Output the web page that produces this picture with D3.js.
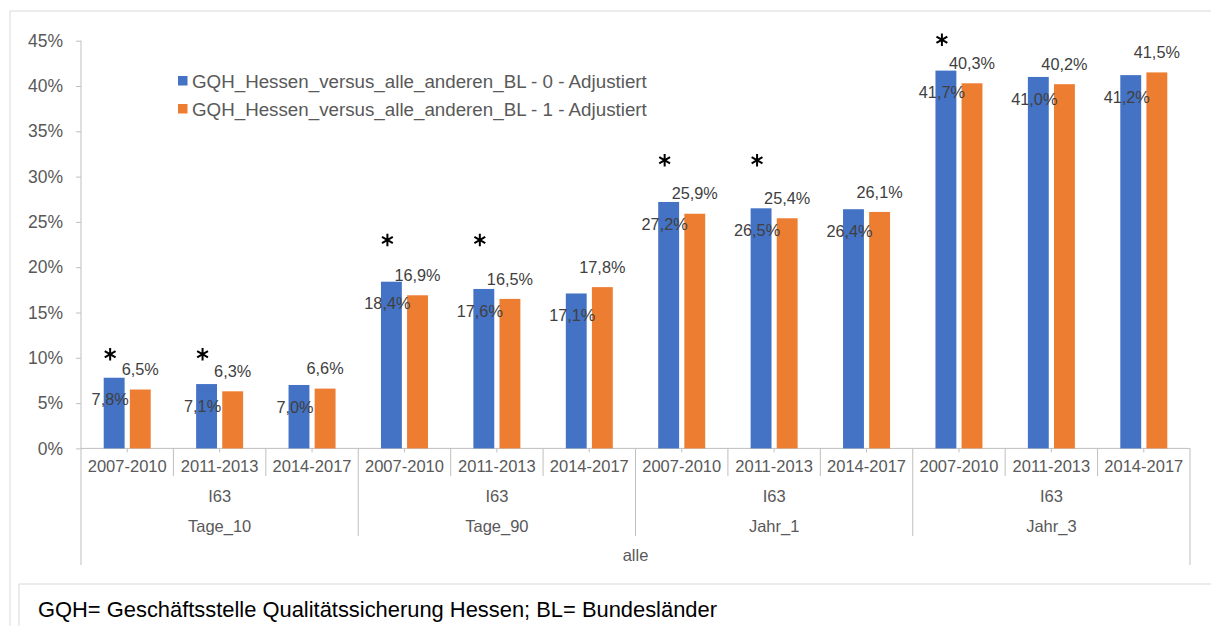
<!DOCTYPE html>
<html>
<head>
<meta charset="utf-8">
<title>GQH Hessen versus alle anderen BL</title>
<script src="https://d3js.org/d3.v7.min.js"></script>
<style>
	body { margin: 0; background: #fff; }
	svg { display: block; font-family: Arial, "Liberation Sans", sans-serif; }
</style>
</head>
<body>
<svg id="chart" width="1211" height="626"></svg>
<script>
// data
var periods = ["2007-2010", "2011-2013", "2014-2017"];
var groups = ["Tage_10", "Tage_90", "Jahr_1", "Jahr_3"];
var indicator = "I63";
var population = "alle";
var seriesNames = [
	"GQH_Hessen_versus_alle_anderen_BL - 0 - Adjustiert",
	"GQH_Hessen_versus_alle_anderen_BL - 1 - Adjustiert"
];
var hessen   = [7.8, 7.1, 7.0, 18.4, 17.6, 17.1, 27.2, 26.5, 26.4, 41.7, 41.0, 41.2];
var andereBL = [6.5, 6.3, 6.6, 16.9, 16.5, 17.8, 25.9, 25.4, 26.1, 40.3, 40.2, 41.5];
var significant = [1, 1, 0, 1, 1, 0, 1, 1, 0, 1, 0, 0];
var starLevel = [10.4, 23, 31.8, 45.1]; // height (in %) of the * per group
var yTicks = [0, 5, 10, 15, 20, 25, 30, 35, 40, 45];
var footnote = "GQH= Geschäftsstelle Qualitätssicherung Hessen; BL= Bundesländer";

var colors = ["#4472C4", "#ED7D31"];
var axisGrey = "#BFBFBF";
var textGrey = "#595959";

// build rows
var rows = [];
groups.forEach(function(g, gi) {
	periods.forEach(function(p, pi) {
		var i = gi * periods.length + pi;
		rows.push({key: g + "|" + p, group: g, gi: gi, period: p,
			values: [hessen[i], andereBL[i]], sig: significant[i]});
	});
});

var svg = d3.select("#chart");
var de = d3.formatLocale({decimal: ",", thousands: ".", grouping: [3], currency: ["", "€"]});
var fmt = de.format(".1f");

var x0 = d3.scaleBand().domain(rows.map(function(d){return d.key;})).range([81, 1190]);
var bw = x0.bandwidth();
var x1 = d3.scaleBand().domain([0, 1]).range([bw/2 - 23.5, bw/2 + 23.5]).paddingInner(0.2);
var y = d3.scaleLinear().domain([0, 45]).range([448.4, 40.7]);

// borders
svg.append("path").attr("d", "M10,626V11H1211").attr("fill", "none").attr("stroke", "#D9D9D9");
svg.append("path").attr("d", "M19,626V584H1211").attr("fill", "none").attr("stroke", "#D9D9D9");

// y axis
var yAxis = svg.append("g")
	.attr("transform", "translate(81,0)")
	.call(d3.axisLeft(y).tickValues(yTicks).tickSize(5).tickPadding(13)
		.tickFormat(function(d){return d + "%";}));
yAxis.attr("font-family", null);
yAxis.select(".domain").remove();
yAxis.selectAll("line").attr("stroke", axisGrey);
yAxis.selectAll("text").attr("fill", textGrey).style("font-size", "17.5px");

// x axis (first level)
var xAxis = svg.append("g")
	.attr("transform", "translate(0," + y(0) + ")")
	.call(d3.axisBottom(x0).tickSize(4).tickPadding(8)
		.tickFormat(function(k){return k.split("|")[1];}));
xAxis.attr("font-family", null);
xAxis.select(".domain").attr("d", "M81,0H1190").attr("stroke", axisGrey);
xAxis.selectAll("line").attr("stroke", axisGrey);
xAxis.selectAll("text").attr("fill", textGrey).style("font-size", "16.5px");

// dividers of the multi level axis
var bounds = d3.range(rows.length + 1);
svg.selectAll("line.div")
	.data(bounds)
	.enter()
	.append("line")
	.attr("class", "div")
	.attr("stroke", axisGrey)
	.attr("x1", function(i){return i < rows.length ? x0(rows[i].key) : x0.range()[1];})
	.attr("x2", function(i){return i < rows.length ? x0(rows[i].key) : x0.range()[1];})
	.attr("y1", function(i){return i == 0 ? y(45) : y(0);})
	.attr("y2", function(i){
		if (i == 0 || i == rows.length) return 565;
		if (i % periods.length == 0) return 536;
		return 476;
	});

// group labels
var groupCenter = function(gi) {
	var a = x0(rows[gi * periods.length].key);
	var b = x0(rows[gi * periods.length + periods.length - 1].key) + bw;
	return (a + b) / 2;
};
var gLabels = svg.append("g").attr("fill", textGrey).style("font-size", "16.5px").attr("text-anchor", "middle");
groups.forEach(function(g, gi) {
	gLabels.append("text").attr("x", groupCenter(gi)).attr("y", 496).attr("dy", "0.35em").text(indicator);
	gLabels.append("text").attr("x", groupCenter(gi)).attr("y", 526).attr("dy", "0.35em").text(g);
});
gLabels.append("text")
	.attr("x", (x0.range()[0] + x0.range()[1]) / 2)
	.attr("y", 555).attr("dy", "0.35em").text(population);

// bars
var cat = svg.selectAll("g.cat")
	.data(rows)
	.enter()
	.append("g")
	.attr("class", "cat")
	.attr("transform", function(d){return "translate(" + x0(d.key) + ",0)";});

cat.selectAll("rect")
	.data(function(d){return d.values.map(function(v, s){return {v: v, s: s};});})
	.enter()
	.append("rect")
	.attr("fill", function(d){return colors[d.s];})
	.attr("x", function(d){return x1(d.s);})
	.attr("width", x1.bandwidth())
	.attr("y", function(d){return y(d.v);})
	.attr("height", function(d){return y(0) - y(d.v);});

// data labels
cat.selectAll("text.lbl")
	.data(function(d){return d.values.map(function(v, s){return {v: v, s: s};});})
	.enter()
	.append("text")
	.attr("class", "lbl")
	.attr("text-anchor", "middle")
	.attr("fill", "#404040")
	.style("font-size", "16.3px")
	.attr("x", function(d){return x1(d.s) + x1.bandwidth()/2 - (d.s == 0 ? 4 : 0);})
	.attr("y", function(d){return d.s == 0 ? y(d.v) + 22 : y(d.v) - 20;})
	.attr("dy", "0.35em")
	.text(function(d){return fmt(d.v) + "%";});

// significance stars
var star = d3.symbol().type(d3.symbolAsterisk).size(110);
cat.filter(function(d){return d.sig == 1;})
	.append("path")
	.attr("d", star)
	.attr("fill", "none")
	.attr("stroke", "#000")
	.attr("stroke-width", 2)
	.attr("transform", function(d){
		return "translate(" + (x1(0) + x1.bandwidth()/2 - 4) + "," + y(starLevel[d.gi]) + ")";
	});

// legend
var legend = svg.append("g").attr("transform", "translate(178,76)");
seriesNames.forEach(function(name, i) {
	legend.append("rect")
		.attr("x", 0).attr("y", i * 28)
		.attr("width", 9.5).attr("height", 9.5)
		.attr("fill", colors[i]);
	legend.append("text")
		.attr("x", 14).attr("y", i * 28 + 5)
		.attr("dy", "0.35em")
		.attr("fill", textGrey)
		.style("font-size", "18.75px")
		.text(name);
});

// footnote
svg.append("text")
	.attr("x", 38).attr("y", 616.5)
	.attr("fill", "#000")
	.style("font-size", "21.9px")
	.text(footnote);
</script>
</body>
</html>
